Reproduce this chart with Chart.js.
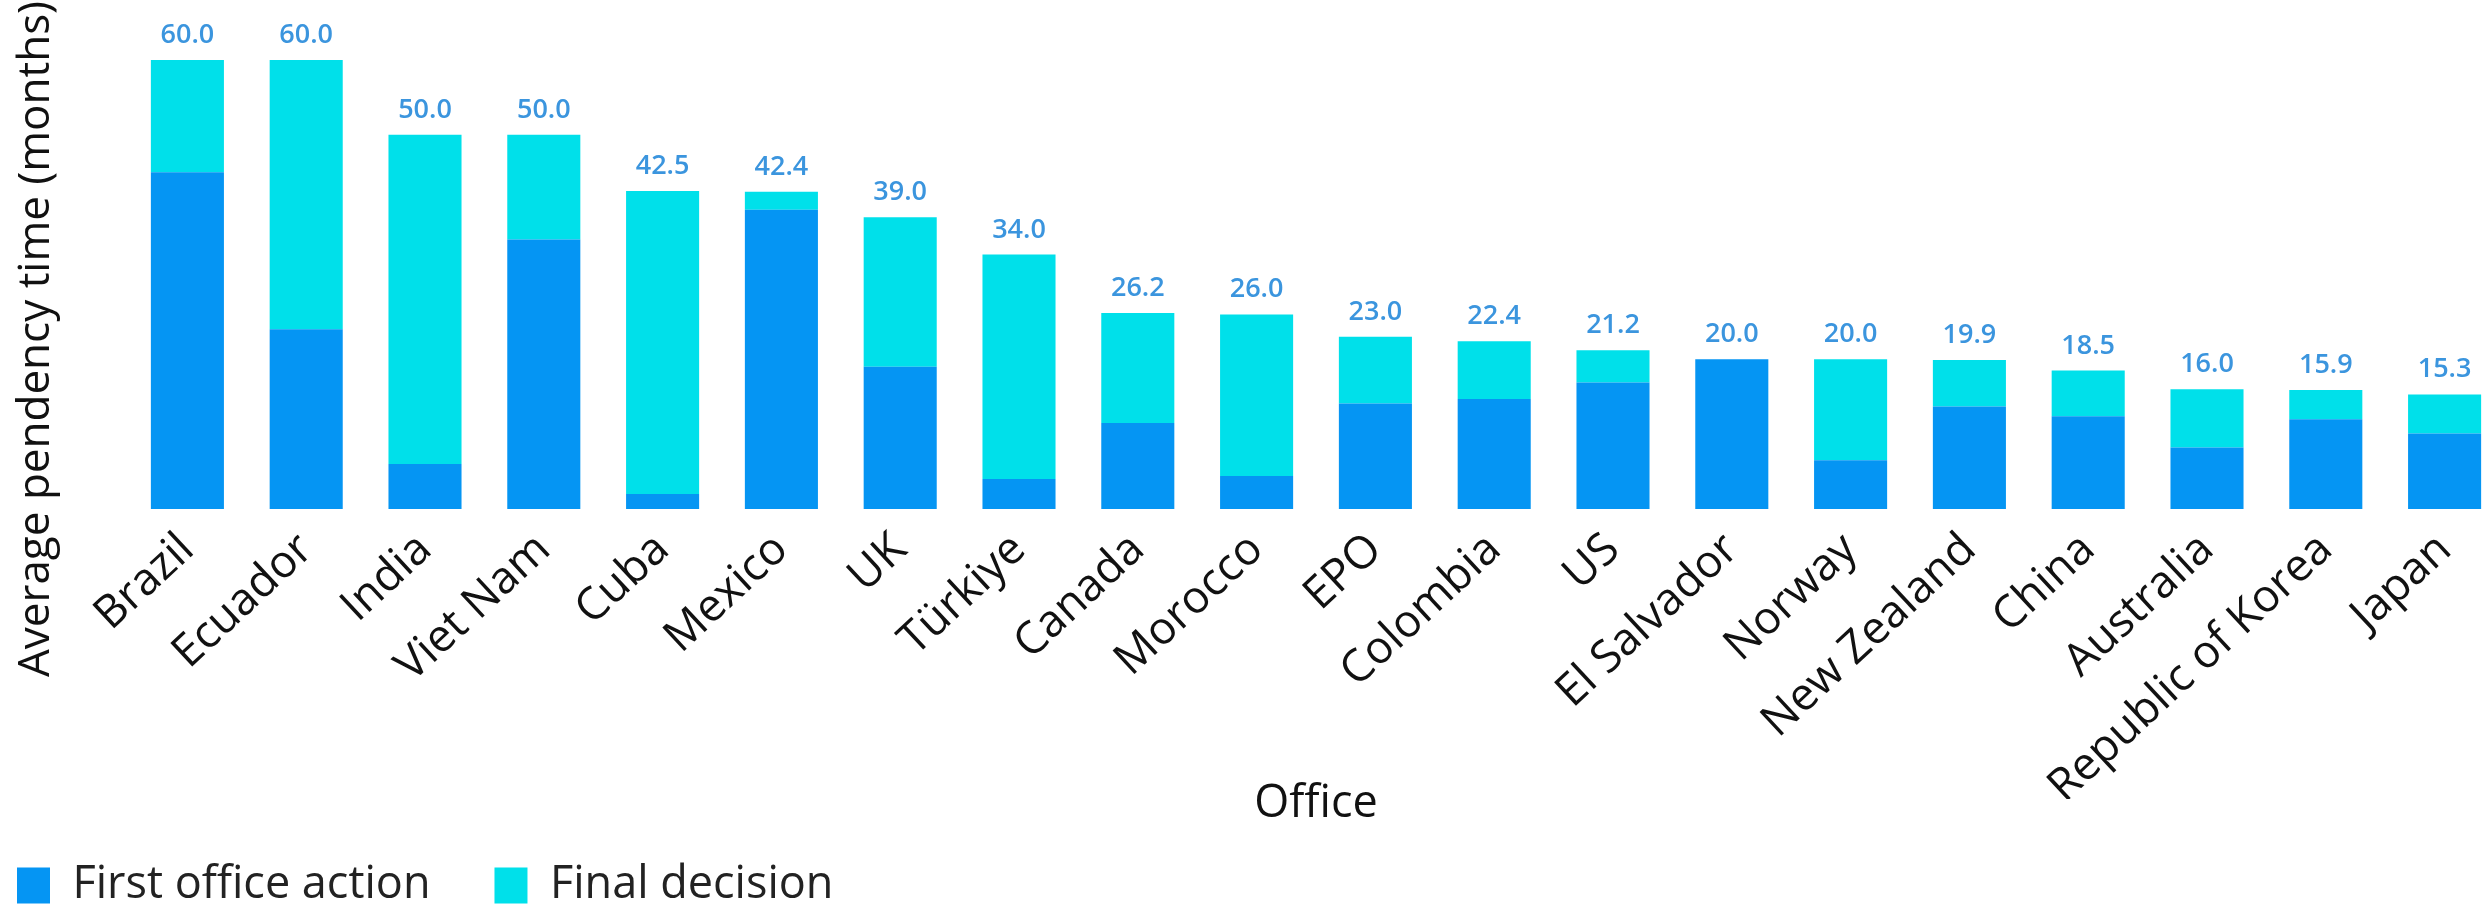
<!DOCTYPE html>
<html>
<head>
<meta charset="utf-8">
<script src="https://cdn.jsdelivr.net/npm/chart.js@4.4.1/dist/chart.umd.min.js"></script>
<style>
  html, body { margin: 0; padding: 0; background: #fff; overflow: hidden; }
  /* plot runs a little past the right edge of the window */
  #wrap { width: 2504px; height: 908px; }
</style>
</head>
<body>
<div id="wrap"><canvas id="pendency"></canvas></div>
<script>
const offices = [
  "Brazil", "Ecuador", "India", "Viet Nam", "Cuba", "Mexico", "UK", "Türkiye",
  "Canada", "Morocco", "EPO", "Colombia", "US", "El Salvador", "Norway",
  "New Zealand", "China", "Australia", "Republic of Korea", "Japan",
];
const firstAction = [45.0, 24.0, 6.0, 36.0, 2.0, 40.0, 19.0, 4.0, 11.5, 4.4, 14.1, 14.7, 16.9, 20.0, 6.5, 13.7, 12.4, 8.2, 12.0, 10.1];
const finalDecision = [15.0, 36.0, 44.0, 14.0, 40.5, 2.4, 20.0, 30.0, 14.7, 21.6, 8.9, 7.7, 4.3, 0.0, 13.5, 6.2, 6.1, 7.8, 3.9, 5.2];

const FONT = "'Open Sans', 'Noto Sans', sans-serif";
Chart.defaults.font.family = FONT;

// total above each stacked bar
const totalLabels = {
  id: "totalLabels",
  afterDatasetsDraw(chart) {
    const ctx = chart.ctx;
    const tops = chart.getDatasetMeta(1).data;
    ctx.save();
    ctx.font = "600 27px " + FONT;
    ctx.fillStyle = "#3b95de";
    ctx.textAlign = "center";
    ctx.textBaseline = "alphabetic";
    tops.forEach((bar, i) => {
      const total = firstAction[i] + finalDecision[i];
      ctx.fillText(total.toFixed(1), bar.x, bar.y - 17);
    });
    ctx.restore();
  },
};

// y title is longer than the plot, so it is placed by hand
const yTitle = {
  id: "yTitle",
  afterDraw(chart) {
    const ctx = chart.ctx;
    ctx.save();
    ctx.translate(36, 339);
    ctx.rotate(-Math.PI / 2);
    ctx.font = "44px " + FONT;
    ctx.fillStyle = "#111";
    ctx.textAlign = "center";
    ctx.textBaseline = "middle";
    ctx.fillText("Average pendency time (months)", 0, 0);
    ctx.restore();
  },
};

function createChart(elementId) {
  const el = document.getElementById(elementId);

  return new Chart(el, {
    type: "bar",
    data: {
      labels: offices,
      datasets: [
        {
          label: "First office action",
          data: firstAction,
          backgroundColor: "#0595f3",
          barPercentage: 0.615,
          categoryPercentage: 1,
        },
        {
          label: "Final decision",
          data: finalDecision,
          backgroundColor: "#00e0ea",
          barPercentage: 0.615,
          categoryPercentage: 1,
        },
      ],
    },
    options: {
      responsive: true,
      maintainAspectRatio: false,
      animation: false,
      layout: { padding: { top: 60, left: -47, right: 0, bottom: -10 } },
      plugins: {
        legend: {
          position: "bottom",
          align: "start",
          labels: {
            boxWidth: 33,
            boxHeight: 36,
            padding: 64,
            color: "#222",
            font: { size: 45 },
          },
        },
        tooltip: { enabled: false },
      },
      scales: {
        x: {
          stacked: true,
          grid: { display: false },
          border: { display: false },
          ticks: {
            autoSkip: false,
            minRotation: 43,
            maxRotation: 43,
            padding: 6,
            color: "#111",
            font: { size: 45 },
          },
          title: {
            display: true,
            text: "Office",
            color: "#111",
            font: { size: 45 },
            padding: { top: -43, bottom: -32 },
          },
        },
        y: {
          stacked: true,
          min: 0,
          max: 60,
          grid: { display: false },
          border: { display: false },
          ticks: { display: false },
          afterFit(scale) {
            scale.width = 175;
          },
        },
      },
    },
    plugins: [totalLabels, yTitle],
  });
}

createChart("pendency");
</script>
</body>
</html>
